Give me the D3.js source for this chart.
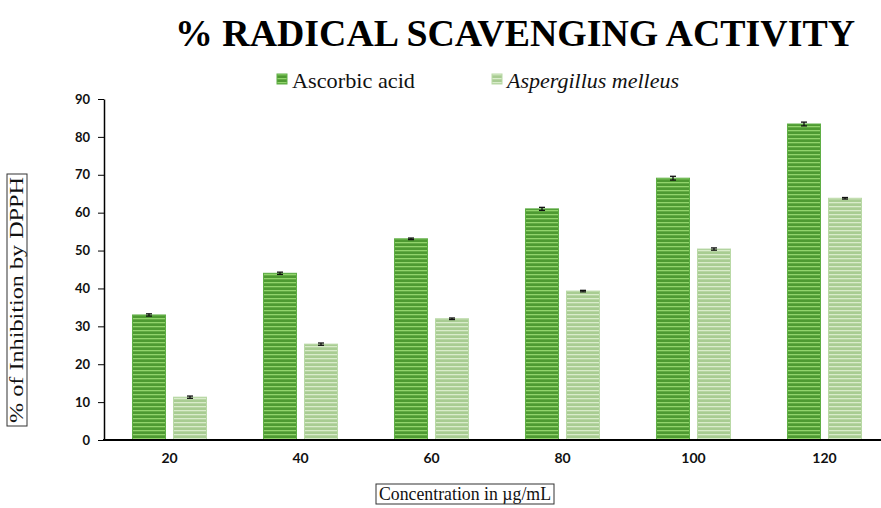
<!DOCTYPE html>
<html><head><meta charset="utf-8">
<script src="https://cdn.jsdelivr.net/npm/d3@7"></script>
<style>body{margin:0;background:#fff}svg{display:block}</style>
</head><body>
<svg id="c" width="881" height="508"></svg>
<script>
const categories = ["20","40","60","80","100","120"];
const seriesNames = ["Ascorbic acid","Aspergillus melleus"];
const ascorbic = [33.0, 44.0, 53.1, 61.0, 69.1, 83.4];
const aspergillus = [11.3, 25.3, 32.0, 39.3, 50.4, 63.8];
const ascorbicErr = [0.3, 0.3, 0.2, 0.4, 0.5, 0.5];
const aspergillusErr = [0.3, 0.3, 0.2, 0.2, 0.3, 0.2];
const yTicks = [0,10,20,30,40,50,60,70,80,90];

const SERIF = "'Liberation Serif', 'Times New Roman', Times, serif";
const SANS = "Lato, 'Open Sans', sans-serif";
const svg = d3.select("#c");
const defs = svg.append("defs");
function stripe(id, base, light){
  const p = defs.append("pattern").attr("id", id).attr("patternUnits","userSpaceOnUse")
    .attr("width", 8).attr("height", 4);
  p.append("rect").attr("width",8).attr("height",4).attr("fill",base);
  p.append("rect").attr("y",2).attr("width",8).attr("height",1.3).attr("fill",light);
}
stripe("pA", "#4e9a32", "#92d46c");
stripe("pB", "#a8cc92", "#d9eccb");
const fills = ["url(#pA)","url(#pB)"];
const strokes = ["#5fae45","#b9d9a6"];

const x0 = d3.scaleBand().domain(categories).range([104, 890]);
const x1 = d3.scaleBand().domain(seriesNames).range([0, x0.bandwidth()]).paddingInner(0.195).paddingOuter(0.695);
const y = d3.scaleLinear().domain([0, 90]).range([440, 99]);

const data = categories.map((c,i)=>({c, vals:[
  {s:seriesNames[0], v:ascorbic[i], e:ascorbicErr[i], k:0},
  {s:seriesNames[1], v:aspergillus[i], e:aspergillusErr[i], k:1}]}));

const g = svg.append("g").selectAll("g").data(data).join("g")
  .attr("transform", d=>`translate(${x0(d.c)},0)`);
g.selectAll("rect").data(d=>d.vals).join("rect")
  .attr("x", d=>x1(d.s)).attr("width", x1.bandwidth())
  .attr("y", d=>y(d.v)).attr("height", d=>y(0)-y(d.v))
  .attr("fill", d=>fills[d.k]).attr("stroke", d=>strokes[d.k]).attr("stroke-width",1);
// error bars
const eb = g.selectAll("g.eb").data(d=>d.vals).join("g").attr("class","eb")
  .attr("stroke","#111").attr("stroke-width",1.3);
eb.append("line").attr("x1",d=>x1(d.s)+x1.bandwidth()/2).attr("x2",d=>x1(d.s)+x1.bandwidth()/2)
  .attr("y1",d=>y(d.v+d.e)).attr("y2",d=>y(d.v-d.e));
eb.append("line").attr("x1",d=>x1(d.s)+x1.bandwidth()/2-3).attr("x2",d=>x1(d.s)+x1.bandwidth()/2+3)
  .attr("y1",d=>y(d.v+d.e)).attr("y2",d=>y(d.v+d.e));
eb.append("line").attr("x1",d=>x1(d.s)+x1.bandwidth()/2-3).attr("x2",d=>x1(d.s)+x1.bandwidth()/2+3)
  .attr("y1",d=>y(d.v-d.e)).attr("y2",d=>y(d.v-d.e));

// y axis
const ya = svg.append("g").attr("transform","translate(104,0)")
  .call(d3.axisLeft(y).tickValues(yTicks).tickSize(6).tickSizeOuter(0).tickPadding(8));
ya.select(".domain").attr("stroke","#000").attr("stroke-width",1.5);
ya.selectAll(".tick line").attr("stroke","#000");
ya.selectAll("text").attr("font-family",SANS).attr("font-weight","bold")
  .attr("font-size",13).attr("fill","#111");

// x axis
const xa = svg.append("g").attr("transform","translate(0,440)")
  .call(d3.axisBottom(x0).tickSize(0).tickPadding(13));
xa.select(".domain").remove();
svg.append("line").attr("x1",103).attr("x2",881).attr("y1",440).attr("y2",440)
  .attr("stroke","#000").attr("stroke-width",2);
xa.selectAll("text").attr("font-family",SANS).attr("font-weight","bold")
  .attr("font-size",14).attr("fill","#111");

// title
svg.append("text").attr("x",515).attr("y",46).attr("text-anchor","middle")
  .style("font-family",SERIF).attr("font-weight","bold")
  .attr("font-size",38).attr("fill","#000")
  .attr("textLength",680).attr("lengthAdjust","spacingAndGlyphs")
  .text("% RADICAL SCAVENGING ACTIVITY");

// legend
const legX = [277, 492];
const legLen = [123, 172];
seriesNames.forEach((s,i)=>{
  svg.append("rect").attr("x",legX[i]).attr("y",74).attr("width",10).attr("height",10)
    .attr("fill",fills[i]).attr("stroke",strokes[i]);
  svg.append("text").attr("x",legX[i]+15).attr("y",88)
    .style("font-family",SERIF)
    .attr("font-style", i===1?"italic":"normal")
    .attr("font-size",21).attr("fill","#111")
    .attr("textLength",legLen[i]).attr("lengthAdjust","spacingAndGlyphs").text(s);
});

// y title with box
const yt = svg.append("text").attr("transform","translate(23,300) rotate(-90)")
  .attr("text-anchor","middle")
  .style("font-family",SERIF)
  .attr("font-size",18).attr("fill","#111")
  .attr("textLength",246).attr("lengthAdjust","spacingAndGlyphs")
  .text("% of Inhibition by DPPH");
const yb = yt.node().getBBox();
svg.append("rect").attr("transform","translate(23,300) rotate(-90)")
  .attr("x",yb.x-3).attr("y",yb.y).attr("width",yb.width+6).attr("height",yb.height)
  .attr("fill","none").attr("stroke","#333");

// x title with box
const xt = svg.append("text").attr("x",465).attr("y",500).attr("text-anchor","middle")
  .style("font-family",SERIF)
  .attr("font-size",18).attr("fill","#111")
  .attr("textLength",172).attr("lengthAdjust","spacingAndGlyphs")
  .text("Concentration in µg/mL");
const xb = xt.node().getBBox();
svg.append("rect").attr("x",xb.x-3).attr("y",xb.y).attr("width",xb.width+6).attr("height",xb.height)
  .attr("fill","none").attr("stroke","#333");
</script>
</body></html>
